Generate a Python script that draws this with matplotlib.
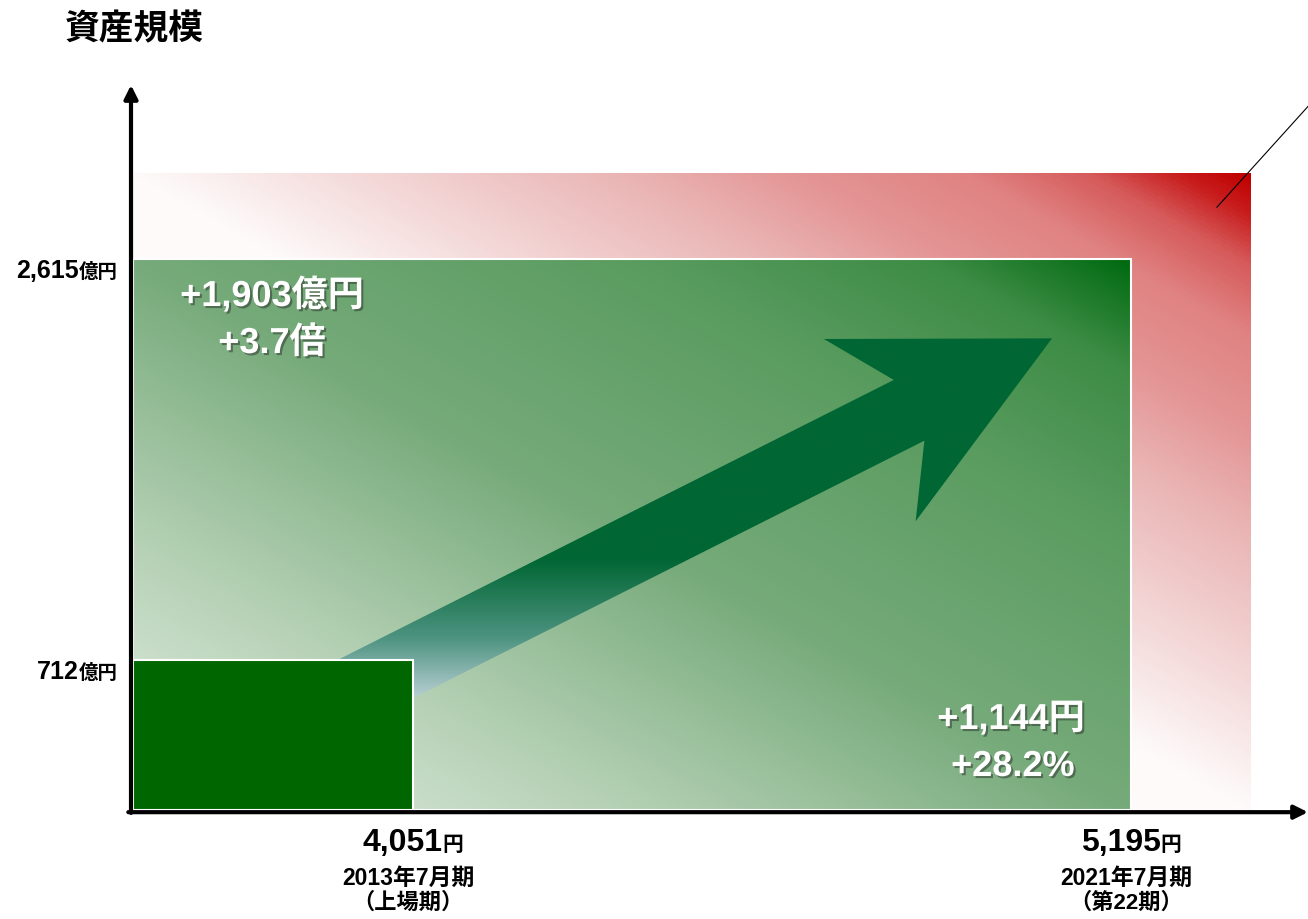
import numpy as np
import matplotlib
matplotlib.use('Agg')
import matplotlib.pyplot as plt
import matplotlib.patheffects as pe
from matplotlib.patches import Rectangle, Polygon
from matplotlib.colors import LinearSegmentedColormap
from matplotlib.transforms import IdentityTransform

plt.rcParams['font.family'] = ['Liberation Sans', 'Noto Sans CJK JP']

# data
periods = ['2013年7月期', '2021年7月期']
period_notes = ['（上場期）', '（第22期）']
share_price = [4051, 5195]   # 円
assets = [712, 2615]         # 億円
frame_top = 3025             # 億円 (outer red frame)

# layout (x positions of the two periods, arbitrary units)
x_pos = [2.8, 9.98]
frame_right = 11.18

fig = plt.figure(figsize=(13.08, 9.19), dpi=100)
ax = fig.add_axes([133 / 1308, 109 / 919, 1175 / 1308, 725 / 919])
ax.axis('off')

red_cmap = LinearSegmentedColormap.from_list('red', [
    (0, '#ffffff'), (0.5, '#fefafa'), (0.59, '#f5dcdc'), (0.72, '#eab4b4'), (0.80, '#e49494'),
    (0.875, '#e08282'), (0.93, '#d65a5a'), (0.97, '#c81c1c'), (1, '#c00000')])
green_cmap = LinearSegmentedColormap.from_list('green', [
    (0, '#e6efe6'), (0.25, '#b4d0b4'), (0.5, '#76aa7a'), (0.75, '#5a9c60'),
    (0.9, '#3d8c45'), (1, '#006a10')])
arrow_cmap = LinearSegmentedColormap.from_list('arrow', [
    (0, '#dde4ef'), (0.5, '#4f9482'), (1, '#006633')])


def diag_gradient(x1, y1, cmap, zorder):
    u = np.linspace(0, 1, 500)
    v = np.linspace(0, 1, 400)
    t = (u[None, :] + v[:, None]) / 2
    ax.imshow(t, cmap=cmap, vmin=0, vmax=1, extent=(0, x1, 0, y1), origin='lower',
              aspect='auto', interpolation='bilinear', zorder=zorder)


diag_gradient(frame_right, frame_top, red_cmap, 1)
diag_gradient(x_pos[1], assets[1], green_cmap, 2)
ax.add_patch(Rectangle((0, 0), x_pos[1], assets[1], fill=False, ec='white', lw=1.5, zorder=2.5))

ax.set_xlim(0, 11.75)
ax.set_ylim(0, 3443)

# big arrow from the small box to the big box
tail = ax.transData.transform((x_pos[0], assets[0]))
tip = ax.transData.transform((x_pos[1], assets[1])) - 79
d = tip - tail
L = np.hypot(*d)
u = d / L
n = np.array([-u[1], u[0]])
w = 34
shape = [(-(L + 100), w), (-160, w), (-204, 102), (0, 0), (-204, -102), (-160, -w), (-(L + 100), -w)]
pts = np.array([tip + a * u + b * n for a, b in shape])
pts_data = ax.transData.inverted().transform(pts)
poly = Polygon(pts_data, closed=True, fc='none', ec='none', transform=ax.transData)
ax.add_patch(poly)
x0, y0 = pts_data.min(axis=0)
x1, y1 = pts_data.max(axis=0)
disp_y = np.linspace(pts[:, 1].min(), pts[:, 1].max(), 300)
ramp = np.clip((disp_y - 199) / 160, 0, 1)
im = ax.imshow(np.tile(ramp[:, None], (1, 10)), cmap=arrow_cmap, vmin=0, vmax=1,
               extent=(x0, x1, y0, y1), origin='lower', aspect='auto', zorder=3)
im.set_clip_path(poly)

# small box
ax.add_patch(Rectangle((0, 0), x_pos[0], assets[0], fc='#006600', ec='white', lw=1.5, zorder=4))

ax.set_xlim(0, 11.75)
ax.set_ylim(0, 3443)

# axes with arrow heads
ax.annotate('', xy=(-0.0017, 1.0), xytext=(-0.0017, -0.004), xycoords='axes fraction',
            arrowprops=dict(arrowstyle='-|>', color='black', lw=3, mutation_scale=20,
                            shrinkA=0, shrinkB=0), zorder=6)
ax.annotate('', xy=(1.0, -0.003), xytext=(-0.004, -0.003), xycoords='axes fraction',
            arrowprops=dict(arrowstyle='-|>', color='black', lw=3, mutation_scale=20,
                            shrinkA=0, shrinkB=0), zorder=6)

# leader line at top right
ax.plot([10.84, 11.78], [2863, 3357], color='black', lw=0.8, clip_on=False, zorder=6)

renderer = fig.canvas.get_renderer()


def rich(X, Y, parts, ha='center', color='black', effects=None):
    objs, widths = [], []
    for s, size in parts:
        t = fig.text(0, 0, s, fontsize=size, fontweight='bold', color=color,
                     transform=IdentityTransform(), va='baseline', path_effects=effects)
        widths.append(t.get_window_extent(renderer).width)
        objs.append(t)
    total = sum(widths)
    start = X - total / 2 if ha == 'center' else X - total
    for t, wd in zip(objs, widths):
        t.set_position((start, Y))
        start += wd


# y labels
for val in assets:
    _, Y = ax.transData.transform((0, val))
    rich(118, Y - 19, [(f'{val:,}', 18), ('億円', 14)], ha='right')

# x labels
for xp, price, per, note in zip(x_pos, share_price, periods, period_notes):
    X, _ = ax.transData.transform((xp, 0))
    rich(X, 919 - 851, [(f'{price:,}', 23), ('円', 15)])
    rich(X - 5, 919 - 885, [(per, 16.5)])
    rich(X - 5, 919 - 909, [(note, 16)])

fig.text(65 / 1308, 1 - 30 / 919, '資産規模', fontsize=25, fontweight='bold', va='center', ha='left')

shadow = [pe.SimplePatchShadow(offset=(1.5, -1.5), shadow_rgbFace='#222222', alpha=0.45), pe.Normal()]
diff_assets = assets[1] - assets[0]
ratio = assets[1] / assets[0]
diff_price = share_price[1] - share_price[0]
pct = diff_price / share_price[0] * 100
rich(272, 919 - 306, [(f'+{diff_assets:,}億円', 26)], color='white', effects=shadow)
rich(272, 919 - 353, [(f'+{ratio:.1f}倍', 26)], color='white', effects=shadow)
rich(1011, 919 - 729, [(f'+{diff_price:,}円', 26)], color='white', effects=shadow)
rich(1013, 919 - 776, [(f'+{pct:.1f}%', 26)], color='white', effects=shadow)

fig.savefig('out.png', dpi=100)
